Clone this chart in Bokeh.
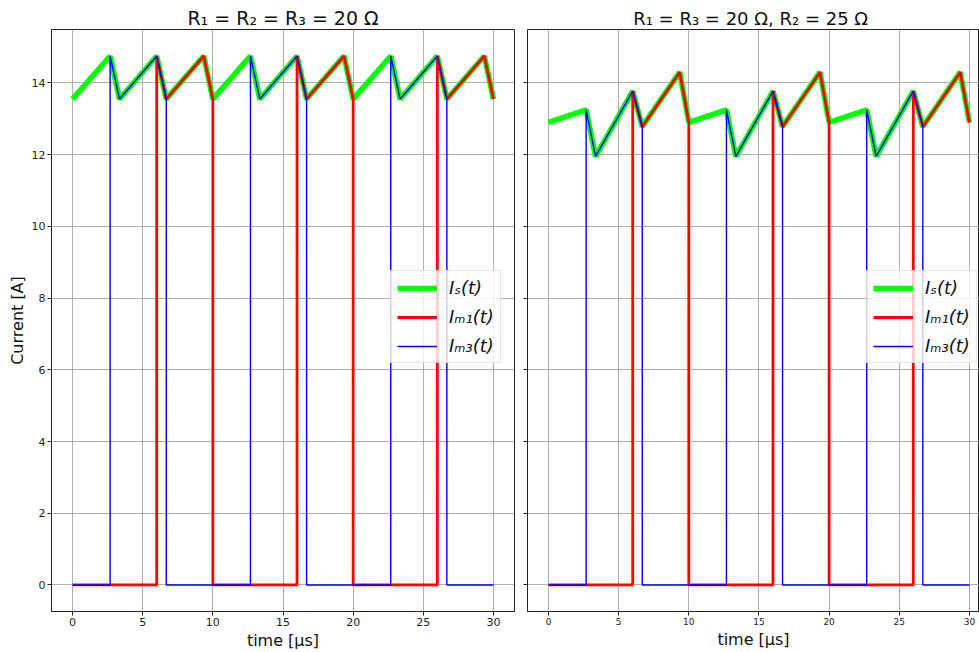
from bokeh.plotting import figure
from bokeh.layouts import row
from bokeh.models import Legend, LegendItem, FixedTicker, Range1d
from bokeh.embed import file_html
from bokeh.resources import INLINE

# ---- data ----
x_ticks = [0, 5, 10, 15, 20, 25, 30]
y_ticks = [0, 2, 4, 6, 8, 10, 12, 14]

# source current switching times [us]
t_s = [0, 2.68, 3.35, 6.0, 6.68, 9.35, 10, 12.68, 13.35, 16.0, 16.68, 19.35, 20,
       22.68, 23.35, 26.0, 26.68, 29.35, 30]

# case 1: R1 = R2 = R3 = 20 ohm
is_1 = [13.55, 14.75, 13.55, 14.75, 13.55, 14.75, 13.55, 14.75, 13.55, 14.75, 13.55, 14.75, 13.55,
        14.75, 13.55, 14.75, 13.55, 14.75, 13.55]
t_m1 = [0, 6.0, 6.0, 6.68, 9.35, 10, 10, 16.0, 16.0, 16.68, 19.35, 20, 20, 26.0, 26.0, 26.68, 29.35, 30]
im1_1 = [0, 0, 14.75, 13.55, 14.75, 13.55, 0, 0, 14.75, 13.55, 14.75, 13.55, 0, 0, 14.75, 13.55, 14.75, 13.55]
t_m3 = [0, 2.68, 2.68, 3.35, 6.0, 6.68, 6.68, 12.68, 12.68, 13.35, 16.0, 16.68, 16.68,
        22.68, 22.68, 23.35, 26.0, 26.68, 26.68, 30]
im3_1 = [0, 0, 14.75, 13.55, 14.75, 13.55, 0, 0, 14.75, 13.55, 14.75, 13.55, 0,
         0, 14.75, 13.55, 14.75, 13.55, 0, 0]

# case 2: R1 = R3 = 20 ohm, R2 = 25 ohm
is_2 = [12.9, 13.25, 11.95, 13.77, 12.78, 14.3, 12.9, 13.25, 11.95, 13.77, 12.78, 14.3, 12.9,
        13.25, 11.95, 13.77, 12.78, 14.3, 12.9]
im1_2 = [0, 0, 13.77, 12.78, 14.3, 12.9, 0, 0, 13.77, 12.78, 14.3, 12.9, 0, 0, 13.77, 12.78, 14.3, 12.9]
im3_2 = [0, 0, 13.25, 11.95, 13.77, 12.78, 0, 0, 13.25, 11.95, 13.77, 12.78, 0,
         0, 13.25, 11.95, 13.77, 12.78, 0, 0]

titles = ["R₁ = R₂ = R₃ = 20 Ω", "R₁ = R₃ = 20 Ω,  R₂ = 25 Ω"]
labels = ["Iₛ(t)", "Iₘ₁(t)", "Iₘ₃(t)"]

FONT = "DejaVu Sans"


def make(idx, is_v, im1_v, im3_v, width, bl, br, xr_end, tick_px, title_px):
    p = figure(width=width, height=652, output_backend="svg", toolbar_location=None,
               x_range=Range1d(-1.5, xr_end), y_range=Range1d(-0.74, 15.49),
               min_border_left=bl, min_border_right=br, min_border_top=29, min_border_bottom=40)
    p.title.text = titles[idx]
    p.title.align = "center"
    p.title.text_font = FONT
    p.title.text_font_size = title_px
    p.title.text_font_style = "normal"
    p.title.text_color = "#111111"
    p.title.standoff = 2
    p.outline_line_color = "#222222"
    p.outline_line_width = 1
    p.background_fill_color = "white"
    p.border_fill_color = "white"

    for ax in (p.xaxis, p.yaxis):
        ax.major_tick_in = 0
        ax.major_tick_out = 4
        ax.minor_tick_line_color = None
        ax.axis_line_color = "#222222"
        ax.major_tick_line_color = "#222222"
        ax.major_label_text_font = FONT
        ax.major_label_text_color = "#222222"
        ax.major_label_standoff = 2
        ax.axis_label_text_font = FONT
        ax.axis_label_text_font_style = "normal"
        ax.axis_label_text_font_size = "16px"
        ax.axis_label_text_color = "#111111"
    p.xaxis.ticker = FixedTicker(ticks=x_ticks)
    p.yaxis.ticker = FixedTicker(ticks=y_ticks)
    p.xaxis.major_label_text_font_size = tick_px
    p.xaxis.axis_label = "time [μs]"
    p.xaxis.axis_label_standoff = 2
    if idx == 0:
        p.yaxis.axis_label = "Current [A]"
        p.yaxis.major_label_text_font_size = "11px"
        p.yaxis.axis_label_standoff = 2
    else:
        p.yaxis.major_label_overrides = {t: "" for t in y_ticks}
        p.yaxis.major_label_standoff = 0

    p.grid.grid_line_color = "#b0b0b0"
    p.grid.grid_line_width = 1
    p.xgrid.ticker = FixedTicker(ticks=x_ticks)
    p.ygrid.ticker = FixedTicker(ticks=y_ticks)

    r_s = p.line(t_s, is_v, line_color="#00ff00", line_width=5.5)
    r_1 = p.line(t_m1, im1_v, line_color="#ff0000", line_width=2.8)
    r_3 = p.line(t_m3, im3_v, line_color="#0000ff", line_width=1.4)

    leg = Legend(items=[LegendItem(label=labels[0], renderers=[r_s]),
                        LegendItem(label=labels[1], renderers=[r_1]),
                        LegendItem(label=labels[2], renderers=[r_3])],
                 location=(339, 248))
    leg.label_text_font = FONT
    leg.label_text_font_size = "18px"
    leg.label_text_font_style = "italic"
    leg.label_text_color = "#111111"
    leg.label_height = 20
    leg.glyph_width = 40
    leg.glyph_height = 20
    leg.spacing = 8
    leg.padding = 6
    leg.margin = 0
    leg.label_standoff = 12
    leg.border_line_color = "#d0d0d0"
    leg.border_line_width = 1
    leg.background_fill_color = "white"
    leg.background_fill_alpha = 0.8
    p.add_layout(leg)
    return p


p1 = make(0, is_1, im1_1, im3_1, 520, 51, 6, 31.5, "11px", "19px")
p2 = make(1, is_2, im1_2, im3_2, 459, 7, 0, 30.72, "9px", "18px")
layout = row(p1, p2)
open("out.html", "w").write(file_html(layout, INLINE))
